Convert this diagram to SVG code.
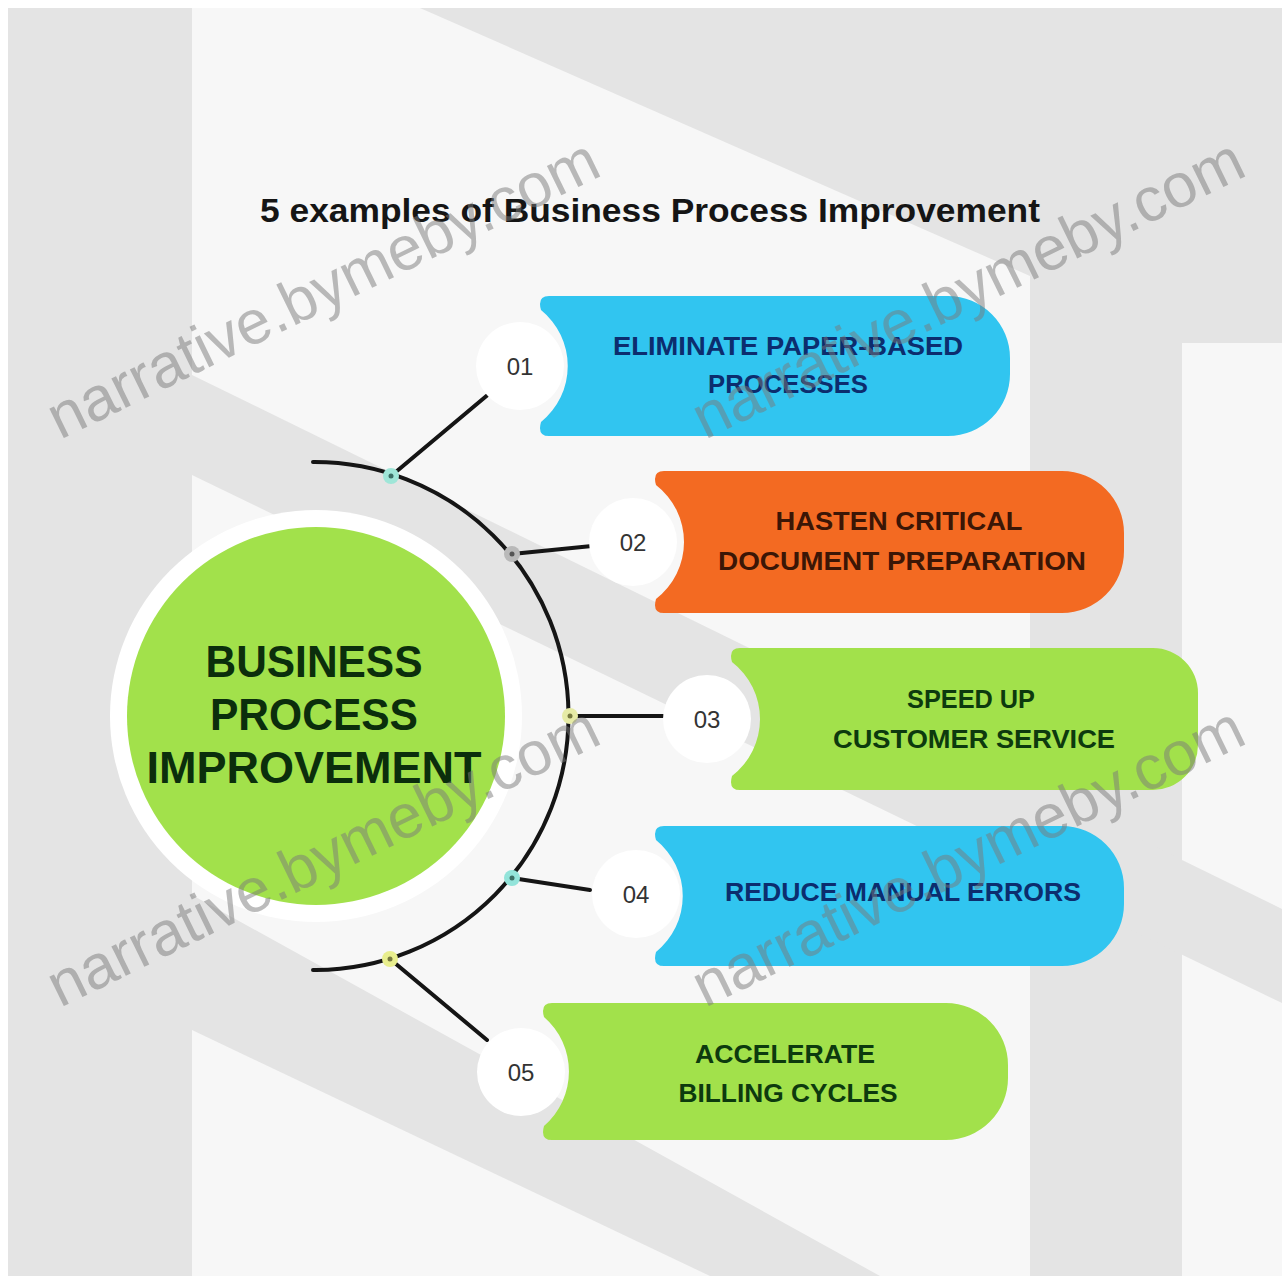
<svg xmlns="http://www.w3.org/2000/svg" width="1286" height="1284" viewBox="0 0 1286 1284">
  <style>
    .title{font-family:"Liberation Sans",Arial,sans-serif;font-weight:700;font-size:34px;fill:#151515}
    .bt{font-family:"Liberation Sans",Arial,sans-serif;font-weight:700;font-size:26px;text-anchor:middle}
    .ct{font-family:"Liberation Sans",Arial,sans-serif;font-weight:700;font-size:45px;text-anchor:middle;fill:#0b2e0c}
    .num{font-family:"Liberation Sans",Arial,sans-serif;font-size:24px;text-anchor:middle;fill:#333}
    .conn{stroke:#151515;stroke-width:4;fill:none;stroke-linecap:round}
    .halo{fill:#ffffff}
    .wm{font-family:"Liberation Sans",Arial,sans-serif;font-size:62px;fill:#7a7a7a;fill-opacity:0.5}
    .blue{fill:#31c5f0}
    .orange{fill:#f36a22}
    .green{fill:#a2e14b}
  </style>
  <g id="background">
    <rect width="1286" height="1284" fill="#ffffff"/>
    <rect x="8" y="8" width="1274" height="1268" fill="#f7f7f7"/>
    <rect x="8" y="8" width="184" height="1268" fill="#e4e4e4"/>
    <polygon points="420,8 1282,8 1282,343 1182,343 1182,1276 1030,1276 1030,276" fill="#e4e4e4"/>
    <polygon points="192,375 1282,909 1282,1003 192,475" fill="#e4e4e4"/>
    <polygon points="192,895 880,1276 710,1276 192,1030" fill="#e4e4e4"/>
  </g>
  <g id="title">
    <text class="title" x="260" y="222" textLength="780" lengthAdjust="spacingAndGlyphs">5 examples of Business Process Improvement</text>
  </g>
  <g id="center">
    <circle cx="316" cy="716" r="206" class="halo"/>
    <circle cx="316" cy="716" r="189" class="green"/>
    <text class="ct" x="314" y="677" textLength="217" lengthAdjust="spacingAndGlyphs">BUSINESS</text>
    <text class="ct" x="314" y="730" textLength="208" lengthAdjust="spacingAndGlyphs">PROCESS</text>
    <text class="ct" x="314" y="783" textLength="335" lengthAdjust="spacingAndGlyphs">IMPROVEMENT</text>
  </g>
  <g id="connectors">
    <path class="conn" d="M313,462 A254 254 0 0 1 316,970 M316,970 L313,970"/>
    <line class="conn" x1="391" y1="476" x2="490" y2="393"/>
    <line class="conn" x1="512" y1="554" x2="592" y2="546"/>
    <line class="conn" x1="570" y1="716" x2="663" y2="716"/>
    <line class="conn" x1="512" y1="878" x2="590" y2="890"/>
    <line class="conn" x1="390" y1="959" x2="487" y2="1040"/>
    <circle cx="391" cy="476" r="8" fill="#9fe6d8"/>
    <circle cx="391" cy="476" r="2.5" fill="#3c6f66"/>
    <circle cx="512" cy="554" r="8" fill="#b9b9b9"/>
    <circle cx="512" cy="554" r="2.5" fill="#555"/>
    <circle cx="570" cy="716" r="8" fill="#e6eba6"/>
    <circle cx="570" cy="716" r="2.5" fill="#777a40"/>
    <circle cx="512" cy="878" r="8" fill="#93e4da"/>
    <circle cx="512" cy="878" r="2.5" fill="#3c6f66"/>
    <circle cx="390" cy="959" r="8" fill="#e8ee8e"/>
    <circle cx="390" cy="959" r="2.5" fill="#777a40"/>
  </g>
  <g id="item01">
    <circle cx="520" cy="366" r="44" class="halo"/>
    <path class="blue" d="M549,296 H948 A62 62 0 0 1 1010,358 V374 A62 62 0 0 1 948,436 H549 Q537,436 541,422 A72 72 0 0 0 541,310 Q537,296 549,296 Z"/>
    <text class="num" x="520" y="375">01</text>
    <text class="bt" x="788" y="355" fill="#0c2d6e" textLength="350" lengthAdjust="spacingAndGlyphs">ELIMINATE PAPER-BASED</text>
    <text class="bt" x="788" y="393" fill="#0c2d6e" textLength="160" lengthAdjust="spacingAndGlyphs">PROCESSES</text>
  </g>
  <g id="item02">
    <circle cx="633" cy="542" r="44" class="halo"/>
    <path class="orange" d="M664,471 H1062 A62 62 0 0 1 1124,533 V551 A62 62 0 0 1 1062,613 H664 Q652,613 656,599 A72 72 0 0 0 656,485 Q652,471 664,471 Z"/>
    <text class="num" x="633" y="551">02</text>
    <text class="bt" x="899" y="530" fill="#3b1606" textLength="247" lengthAdjust="spacingAndGlyphs">HASTEN CRITICAL</text>
    <text class="bt" x="902" y="570" fill="#3b1606" textLength="368" lengthAdjust="spacingAndGlyphs">DOCUMENT PREPARATION</text>
  </g>
  <g id="item03">
    <circle cx="707" cy="719" r="44" class="halo"/>
    <path class="green" d="M740,648 H1153 A45 45 0 0 1 1198,693 V745 A45 45 0 0 1 1153,790 H740 Q728,790 732,776 A72 72 0 0 0 732,662 Q728,648 740,648 Z"/>
    <text class="num" x="707" y="728">03</text>
    <text class="bt" x="971" y="708" fill="#0d3a0e" textLength="128" lengthAdjust="spacingAndGlyphs">SPEED UP</text>
    <text class="bt" x="974" y="748" fill="#0d3a0e" textLength="282" lengthAdjust="spacingAndGlyphs">CUSTOMER SERVICE</text>
  </g>
  <g id="item04">
    <circle cx="636" cy="894" r="44" class="halo"/>
    <path class="blue" d="M664,826 H1062 A62 62 0 0 1 1124,888 V904 A62 62 0 0 1 1062,966 H664 Q652,966 656,952 A72 72 0 0 0 656,840 Q652,826 664,826 Z"/>
    <text class="num" x="636" y="903">04</text>
    <text class="bt" x="903" y="901" fill="#0c2d6e" textLength="356" lengthAdjust="spacingAndGlyphs">REDUCE MANUAL ERRORS</text>
  </g>
  <g id="item05">
    <circle cx="521" cy="1072" r="44" class="halo"/>
    <path class="green" d="M552,1003 H946 A62 62 0 0 1 1008,1065 V1078 A62 62 0 0 1 946,1140 H552 Q540,1140 544,1126 A72 72 0 0 0 544,1017 Q540,1003 552,1003 Z"/>
    <text class="num" x="521" y="1081">05</text>
    <text class="bt" x="785" y="1063" fill="#0d3a0e" textLength="180" lengthAdjust="spacingAndGlyphs">ACCELERATE</text>
    <text class="bt" x="788" y="1102" fill="#0d3a0e" textLength="219" lengthAdjust="spacingAndGlyphs">BILLING CYCLES</text>
  </g>
  <g id="watermarks">
    <text class="wm" transform="translate(60,440) rotate(-26)">narrative.bymeby.com</text>
    <text class="wm" transform="translate(705,440) rotate(-26)">narrative.bymeby.com</text>
    <text class="wm" transform="translate(60,1008) rotate(-26)">narrative.bymeby.com</text>
    <text class="wm" transform="translate(705,1008) rotate(-26)">narrative.bymeby.com</text>
  </g>
</svg>
